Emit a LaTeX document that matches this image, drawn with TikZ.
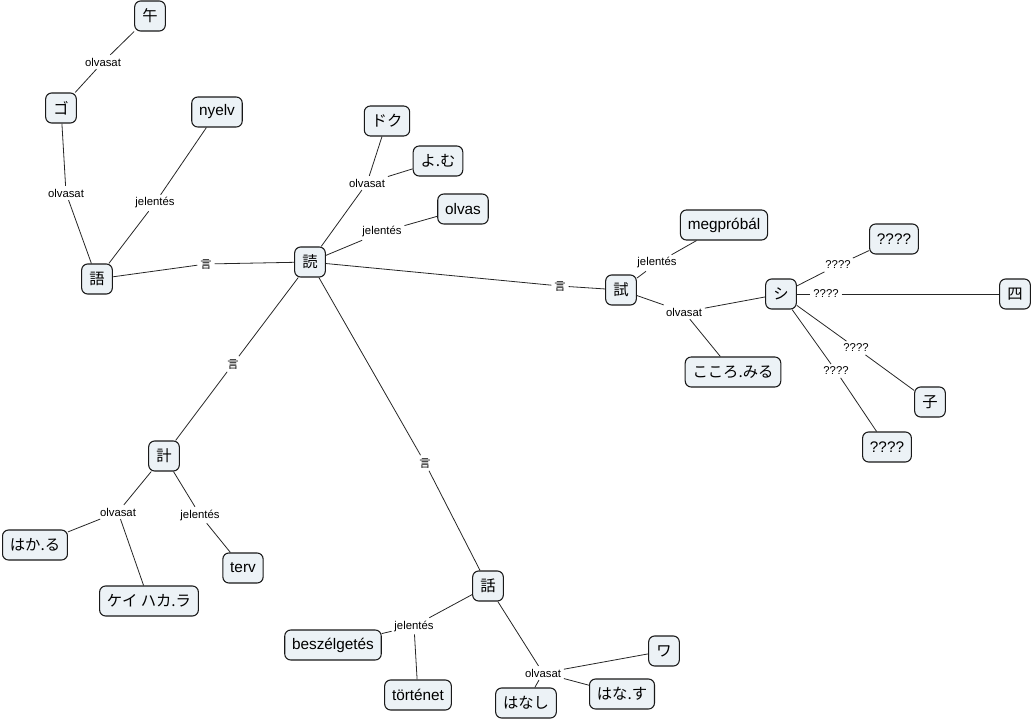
\documentclass[tikz,border=0pt]{standalone}
\usepackage{fontspec}
\setmainfont{Liberation Sans}
\newfontfamily\cjk{Noto Sans CJK JP}
\definecolor{conceptfill}{RGB}{236,242,246}
\tikzset{
  concept/.style={draw=black!90,fill=conceptfill,rounded corners=4.5pt,line width=0.8pt,
    minimum height=22.5pt,minimum width=23pt,inner xsep=5.5pt,inner ysep=0pt,
    font=\fontsize{11.5}{13}\selectfont},
  link/.style={inner sep=2pt,font=\fontsize{8.5}{10}\selectfont},
  conn/.style={draw=black!85,line width=0.6pt}
}
\begin{document}
\begin{tikzpicture}[x=0.75pt,y=-0.75pt]
\useasboundingbox (0,0) rectangle (1033,721);
% concepts
\node[concept] (uma) at (150,16) {\cjk 午};
\node[concept] (kgo) at (61,108) {\cjk ゴ};
\node[concept] (nyelv) at (217,112) {nyelv};
\node[concept] (gogo) at (97,279) {\cjk 語};
\node[concept] (doku) at (387,121) {\cjk ドク};
\node[concept] (yomuk) at (438,161) {\cjk よ.む};
\node[concept] (olvas) at (463,209) {olvas};
\node[concept] (yomu) at (310,262) {\cjk 読};
\node[concept] (megprobal) at (724,225) {megpróbál};
\node[concept] (kokoromi) at (621,290) {\cjk 試};
\node[concept] (kokoromiru) at (733,372) {\cjk こころ.みる};
\node[concept] (shi) at (781,294) {\cjk シ};
\node[concept] (shiq1) at (894,239) {????};
\node[concept] (yon) at (1015,294) {\cjk 四};
\node[concept] (ko) at (930,402) {\cjk 子};
\node[concept] (shiq2) at (887,447) {????};
\node[concept] (kei) at (164,456) {\cjk 計};
\node[concept] (hakaru) at (35,545) {\cjk はか.る};
\node[concept] (terv) at (243,568) {terv};
\node[concept] (keihakara) at (149,601) {\cjk ケイ ハカ.ラ};
\node[concept] (hana) at (488,586) {\cjk 話};
\node[concept] (beszelgetes) at (333,645) {beszélgetés};
\node[concept] (tortenet) at (418,695) {történet};
\node[concept] (hanashi) at (526,703) {\cjk はなし};
\node[concept] (hanasu) at (622,694) {\cjk はな.す};
\node[concept] (wa) at (664,651) {\cjk ワ};
% linking phrases
\node[link] (lgo1) at (103,62) {olvasat};
\node[link] (lgo2) at (66,193) {olvasat};
\node[link] (lgo3) at (155,203) {jelentés};
\node[link] (lgo4) at (206,264) {\cjk 言};
\node[link] (ly1) at (367,183) {olvasat};
\node[link] (ly2) at (382,232) {jelentés};
\node[link] (ly3) at (560,286) {\cjk 言};
\node[link] (ly4) at (233,364) {\cjk 言};
\node[link] (ly5) at (425,463) {\cjk 言};
\node[link] (ls1) at (657,263) {jelentés};
\node[link] (ls2) at (684,312) {olvasat};
\node[link] (lq1) at (838,265) {????};
\node[link] (lq2) at (826,294) {????};
\node[link] (lq3) at (856,348) {????};
\node[link] (lq4) at (836,371) {????};
\node[link] (lk1) at (118,512) {olvasat};
\node[link] (lk2) at (200,515) {jelentés};
\node[link] (lh1) at (414,626) {jelentés};
\node[link] (lh2) at (543,673) {olvasat};
% connections
\draw[conn] (uma) -- (lgo1) -- (kgo);
\draw[conn] (kgo) -- (lgo2) -- (gogo);
\draw[conn] (nyelv) -- (lgo3) -- (gogo);
\draw[conn] (gogo) -- (lgo4) -- (yomu);
\draw[conn] (yomu) -- (ly1) -- (doku) (ly1) -- (yomuk);
\draw[conn] (yomu) -- (ly2) -- (olvas);
\draw[conn] (yomu) -- (ly3) -- (kokoromi);
\draw[conn] (yomu) -- (ly4) -- (kei);
\draw[conn] (yomu) -- (ly5) -- (hana);
\draw[conn] (kokoromi) -- (ls1) -- (megprobal);
\draw[conn] (kokoromi) -- (ls2) -- (shi) (ls2) -- (kokoromiru);
\draw[conn] (shi) -- (lq1) -- (shiq1);
\draw[conn] (shi) -- (lq2) -- (yon);
\draw[conn] (shi) -- (lq3) -- (ko);
\draw[conn] (shi) -- (lq4) -- (shiq2);
\draw[conn] (kei) -- (lk1) -- (hakaru) (lk1) -- (keihakara);
\draw[conn] (kei) -- (lk2) -- (terv);
\draw[conn] (hana) -- (lh1) -- (beszelgetes) (lh1) -- (tortenet);
\draw[conn] (hana) -- (lh2) -- (hanashi) (lh2) -- (hanasu) (lh2) -- (wa);
\end{tikzpicture}
\end{document}
